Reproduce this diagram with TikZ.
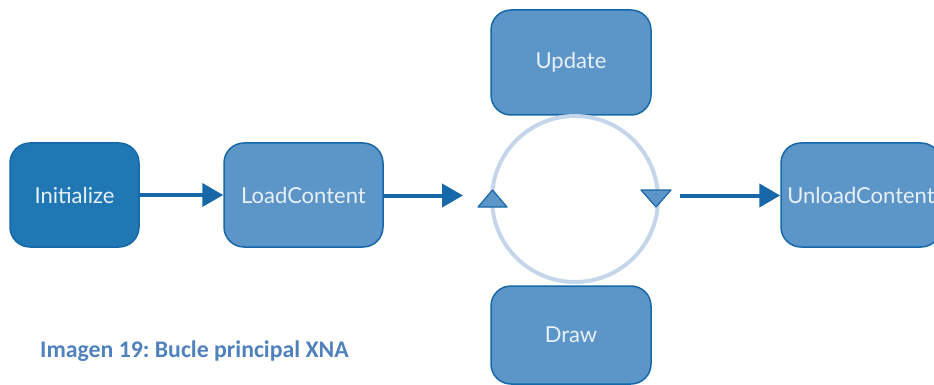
\documentclass[tikz,border=0pt]{standalone}
\usepackage{fontspec}
\setmainfont{Lato}
\newfontfamily\capfont{Carlito}
\usetikzlibrary{arrows.meta}
\usetikzlibrary{positioning}
\definecolor{xdark}{RGB}{31,120,180}
\definecolor{xmid}{RGB}{92,149,200}
\definecolor{xline}{RGB}{22,104,168}
\definecolor{xring}{RGB}{198,214,234}
\definecolor{xtext}{RGB}{232,240,248}
\definecolor{xcaption}{RGB}{79,129,189}
\tikzset{box/.style = {draw=xline, fill=xmid, line width=1.5, rounded corners=20,
                       minimum width=160, minimum height=104, text=xtext,
                       font=\fontsize{22}{26}\selectfont}}
\tikzset{flow/.style = {draw=xline, line width=4,
                        -{Triangle[length=21, width=23]}}}
\tikzset{tri/.style = {draw=xline, fill=xmid, line width=1.2, line join=round}}
\frenchspacing

\begin{document}
\begin{tikzpicture}[x=1pt, y=-1pt]
    \useasboundingbox (0, 0) rectangle (934, 385);

    \node (init) [box, fill=xdark, minimum width=129] at (74.5, 195) {Initialize};
    \node (load) [box, minimum width=159] at (303.5, 195) {LoadContent};
    \node (update) [box, minimum height=105] at (571, 62.5) {Update};
    \node (draw) [box, minimum height=98] at (571, 335) {Draw};
    \node (unload) [box] at (861, 195) {UnloadContent};

    \node (loop) [circle, draw=xring, line width=4, minimum size=166] at (575, 199) {};
    \coordinate (loopin) at (463, 195.5);
    \coordinate (loopout) at (680, 195.5);

    \filldraw [tri] (478, 207) -- (507, 207) -- (492.5, 190) -- cycle;
    \filldraw [tri] (641, 190) -- (671, 190) -- (656, 207) -- cycle;

    \draw [flow] (init) -- (load);
    \draw [flow] (load.east |- loopin) -- (loopin);
    \draw [flow] (loopout) -- (unload.west |- loopout);

    \node (caption) [anchor=base west, inner sep=0, text=xcaption,
                     font=\capfont\bfseries\fontsize{23.8}{28}\selectfont]
        at (40, 357) {Imagen 19: Bucle principal XNA};
  \end{tikzpicture}
\end{document}
